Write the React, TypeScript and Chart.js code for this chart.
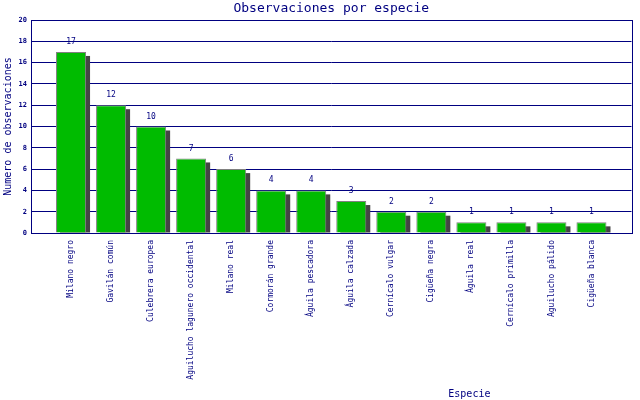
import React, { useEffect, useRef } from "react";
import { Chart, registerables } from "chart.js";

Chart.register(...registerables);

const categories: string[] = [
  "Milano negro",
  "Gavilán común",
  "Culebrera europea",
  "Aguilucho lagunero occidental",
  "Milano real",
  "Cormorán grande",
  "Águila pescadora",
  "Águila calzada",
  "Cernícalo vulgar",
  "Cigüeña negra",
  "Águila real",
  "Cernícalo primilla",
  "Aguilucho pálido",
  "Cigüeña blanca",
];
const observations: number[] = [17, 12, 10, 7, 6, 4, 4, 3, 2, 2, 1, 1, 1, 1];

const chartTitle = "Observaciones por especie";
const yTitle = "Numero de observaciones";
const xTitle = "Especie";

const NAVY = "#000080";
const MONO = "'DejaVu Sans Mono', 'Liberation Mono', monospace";

const decorPlugin = {
  id: "decor",
  beforeDatasetsDraw(chart: any) {
    const ctx = chart.ctx;
    const area = chart.chartArea;
    const meta = chart.getDatasetMeta(0);
    ctx.save();
    ctx.beginPath();
    ctx.rect(area.left, area.top, area.right - area.left, area.bottom - area.top);
    ctx.clip();
    ctx.fillStyle = "#444444";
    meta.data.forEach((el: any) => {
      const p = el.getProps(["x", "y", "base", "width"], true);
      const h = p.base - p.y - 4;
      if (h > 0) ctx.fillRect(p.x - p.width / 2 + 4, p.y + 4, p.width, h);
    });
    ctx.restore();
  },
  afterDatasetsDraw(chart: any) {
    const ctx = chart.ctx;
    const area = chart.chartArea;
    const meta = chart.getDatasetMeta(0);
    ctx.save();
    ctx.fillStyle = NAVY;
    ctx.font = `8px ${MONO}`;
    ctx.textAlign = "center";
    ctx.textBaseline = "bottom";
    meta.data.forEach((el: any, i: number) => {
      const p = el.getProps(["x", "y"], true);
      ctx.fillText(String(observations[i]), p.x, p.y - 6);
    });
    // frame
    ctx.strokeStyle = NAVY;
    ctx.lineWidth = 1;
    ctx.strokeRect(
      Math.round(area.left) + 0.5,
      Math.round(area.top) + 0.5,
      Math.round(area.right - area.left),
      Math.round(area.bottom - area.top)
    );
    // titles
    ctx.font = `13px ${MONO}`;
    ctx.textBaseline = "middle";
    ctx.fillText(chartTitle, (area.left + area.right) / 2, 9);
    ctx.font = `10px ${MONO}`;
    ctx.fillText(xTitle, area.left + (area.right - area.left) * 0.73, 394);
    ctx.translate(8, (area.top + area.bottom) / 2);
    ctx.rotate(-Math.PI / 2);
    ctx.fillText(yTitle, 0, 0);
    ctx.restore();
  },
};

export default function App() {
  const ref = useRef<HTMLCanvasElement | null>(null);

  useEffect(() => {
    document.body.style.margin = "0";
    const canvas = ref.current;
    if (!canvas) return;
    const chart = new Chart(canvas, {
      type: "bar",
      data: {
        datasets: [
          {
            data: categories.map((c, i) => ({ x: i, y: observations[i] })),
            backgroundColor: "#00BB00",
            borderColor: "#808080",
            borderWidth: 1,
            borderSkipped: "bottom",
            barPercentage: 0.75,
            categoryPercentage: 1,
          },
        ],
      },
      options: {
        animation: false,
        responsive: false,
        devicePixelRatio: 1,
        layout: { padding: { top: 20, right: 8.5, left: 0, bottom: 0 } },
        plugins: {
          legend: { display: false },
          tooltip: { enabled: false },
          title: { display: false },
        },
        scales: {
          x: {
            type: "linear",
            min: -1,
            max: 14,
            offset: false,
            grid: { display: false, drawTicks: false },
            border: { display: true, color: NAVY },
            afterBuildTicks: (scale: any) => {
              scale.ticks = categories.map((c, i) => ({ value: i }));
            },
            afterFit: (scale: any) => {
              scale.height = 167;
            },
            ticks: {
              autoSkip: false,
              minRotation: 90,
              maxRotation: 90,
              padding: 7,
              color: NAVY,
              font: { family: MONO, size: 8 },
              callback: (v: any) => categories[v] ?? "",
            },
          },
          y: {
            min: 0,
            max: 20,
            grid: { color: NAVY, drawTicks: false, lineWidth: 1 },
            border: { display: true, color: NAVY },
            afterFit: (scale: any) => {
              scale.width = 31;
            },
            ticks: {
              stepSize: 2,
              padding: 4,
              color: NAVY,
              font: { family: MONO, size: 7, weight: "bold" },
            },
          },
        },
      },
      plugins: [decorPlugin],
    } as any);
    return () => chart.destroy();
  }, []);

  return (
    <div style={{ position: "absolute", left: 0, top: 0, width: 640, height: 400, background: "#fff" }}>
      <canvas ref={ref} width={640} height={400} style={{ width: 640, height: 400 }} />
    </div>
  );
}
